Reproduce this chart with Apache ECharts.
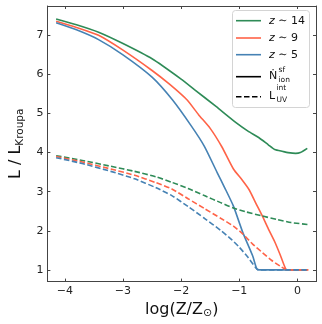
<!DOCTYPE html>
<html>
<head>
<meta charset="utf-8">
<script src="https://cdn.jsdelivr.net/npm/echarts@6/dist/echarts.min.js"></script>
<style>
  html, body { margin: 0; padding: 0; background: #fff; }
  #chart { width: 322px; height: 324px; }
</style>
</head>
<body>
<div id="chart"></div>
<script>
// 坐标轴刻度
const xTicks = [-4, -3, -2, -1, 0];
const yTicks = [1, 2, 3, 4, 5, 6, 7];

// 实线: N_ion^sf
const solidZ14 = [[-4.15, 7.42], [-3.8, 7.27], [-3.42, 7.08], [-3.0, 6.79], [-2.5, 6.40], [-2.0, 5.88], [-1.76, 5.60], [-1.4, 5.18], [-1.05, 4.76], [-0.85, 4.55], [-0.66, 4.38], [-0.5, 4.2], [-0.39, 4.08], [-0.25, 4.03], [-0.16, 4.0], [-0.03, 3.98], [0.05, 4.0], [0.17, 4.11]];
const solidZ9 = [[-4.15, 7.36], [-3.8, 7.2], [-3.42, 7.0], [-3.0, 6.62], [-2.5, 6.10], [-2.2, 5.75], [-1.9, 5.35], [-1.7, 4.97], [-1.5, 4.62], [-1.3, 4.15], [-1.1, 3.58], [-0.95, 3.3], [-0.83, 3.05], [-0.72, 2.72], [-0.61, 2.40], [-0.5, 2.05], [-0.39, 1.72], [-0.3, 1.40], [-0.2, 1.02], [-0.15, 1.0], [0.17, 1.0]];
const solidZ5 = [[-4.15, 7.32], [-3.8, 7.14], [-3.42, 6.89], [-3.0, 6.50], [-2.5, 5.93], [-2.15, 5.35], [-1.82, 4.67], [-1.6, 4.16], [-1.38, 3.49], [-1.25, 3.1], [-1.1, 2.63], [-0.94, 1.96], [-0.77, 1.36], [-0.7, 1.03], [-0.65, 1.0], [0.17, 1.0]];

// 虚线: L_UV^int
const dashZ14 = [[-4.15, 3.92], [-3.7, 3.80], [-3.21, 3.65], [-2.8, 3.52], [-2.43, 3.38], [-2.16, 3.24], [-1.88, 3.08], [-1.6, 2.90], [-1.32, 2.72], [-1.1, 2.58], [-0.9, 2.49], [-0.61, 2.38], [-0.35, 2.29], [-0.11, 2.21], [0.19, 2.16]];
const dashZ9 = [[-4.15, 3.90], [-3.7, 3.76], [-3.21, 3.58], [-2.8, 3.42], [-2.43, 3.23], [-2.16, 3.07], [-1.88, 2.82], [-1.6, 2.57], [-1.32, 2.32], [-1.1, 2.12], [-0.94, 1.92], [-0.77, 1.66], [-0.6, 1.44], [-0.44, 1.24], [-0.3, 1.1], [-0.2, 1.01], [-0.15, 1.0], [0.19, 1.0]];
const dashZ5 = [[-4.15, 3.87], [-3.7, 3.72], [-3.21, 3.52], [-2.8, 3.33], [-2.43, 3.10], [-2.16, 2.90], [-1.88, 2.62], [-1.6, 2.32], [-1.32, 2.01], [-1.15, 1.80], [-1.0, 1.58], [-0.85, 1.32], [-0.72, 1.06], [-0.68, 1.0], [0.19, 1.0]];

const GREEN = '#2e8b57';
const RED = '#ff6347';
const BLUE = '#4682b4';
const FONT = 'DejaVu Sans';
const AXIS = '#444';

function lineSeries(data, color, dashed) {
  return {
    type: 'line',
    data: data,
    showSymbol: false,
    smooth: 0.2,
    silent: true,
    lineStyle: { color: color, width: 1.6, type: dashed ? [5.5, 2.5] : 'solid' },
  };
}

function fmtMinus(v) {
  return String(v).replace('-', '\u2212');
}

const myChart = echarts.init(document.getElementById('chart'));

const xBase = {
  type: 'value', min: -4.3, max: 0.32,
  splitLine: { show: false },
  axisLine: { onZero: false, lineStyle: { color: AXIS, width: 1 } },
  axisTick: { inside: true, length: 3, customValues: xTicks, lineStyle: { color: AXIS } },
};
const yBase = {
  type: 'value', min: 0.7, max: 7.75,
  splitLine: { show: false },
  axisLine: { onZero: false, lineStyle: { color: AXIS, width: 1 } },
  axisTick: { inside: true, length: 3, customValues: yTicks, lineStyle: { color: AXIS } },
};

let option = {
  animation: false,
  grid: { left: 37, right: 6, top: 6, bottom: 42 },
  xAxis: [
    Object.assign({}, xBase, {
      position: 'bottom',
      axisLabel: { customValues: xTicks, formatter: fmtMinus, fontFamily: FONT, fontSize: 11, color: '#222', margin: 4 },
      name: '{a|log(Z/Z}{b|\u2299}{a|)}',
      nameLocation: 'middle',
      nameGap: 17,
      nameTextStyle: {
        rich: {
          a: { fontFamily: FONT, fontSize: 16, color: '#111' },
          b: { fontFamily: FONT, fontSize: 11, color: '#111', padding: [8, 0, 0, 0] },
        },
      },
    }),
    Object.assign({}, xBase, { position: 'top', axisLabel: { show: false } }),
  ],
  yAxis: [
    Object.assign({}, yBase, {
      position: 'left',
      axisLabel: { customValues: yTicks, fontFamily: FONT, fontSize: 11, color: '#222', margin: 4 },
      name: '{a|L / L}{b|Kroupa}',
      nameLocation: 'middle',
      nameGap: 20,
      nameRotate: 90,
      nameTextStyle: {
        rich: {
          a: { fontFamily: FONT, fontSize: 16, color: '#111' },
          b: { fontFamily: FONT, fontSize: 10.5, color: '#111', padding: [8, 0, 0, 0] },
        },
      },
    }),
    Object.assign({}, yBase, { position: 'right', axisLabel: { show: false } }),
  ],
  series: [
    lineSeries(solidZ14, GREEN, false),
    lineSeries(solidZ9, RED, false),
    lineSeries(solidZ5, BLUE, false),
    lineSeries(dashZ14, GREEN, true),
    lineSeries(dashZ9, RED, true),
    lineSeries(dashZ5, BLUE, true),
  ],
  // 图例
  graphic: [
    { type: 'rect', z: 100, shape: { x: 232.5, y: 10.5, width: 77, height: 97, r: 3 }, style: { fill: 'rgba(255,255,255,0.85)', stroke: '#d4d4d4', lineWidth: 1 } },
    { type: 'line', z: 101, shape: { x1: 236, y1: 20.7, x2: 261, y2: 20.7 }, style: { stroke: GREEN, lineWidth: 1.6 } },
    { type: 'line', z: 101, shape: { x1: 236, y1: 38, x2: 261, y2: 38 }, style: { stroke: RED, lineWidth: 1.6 } },
    { type: 'line', z: 101, shape: { x1: 236, y1: 54.7, x2: 261, y2: 54.7 }, style: { stroke: BLUE, lineWidth: 1.6 } },
    { type: 'line', z: 101, shape: { x1: 236, y1: 76.7, x2: 261, y2: 76.7 }, style: { stroke: '#000', lineWidth: 1.6 } },
    { type: 'line', z: 101, shape: { x1: 236, y1: 96.7, x2: 261, y2: 96.7 }, style: { stroke: '#000', lineWidth: 1.6, lineDash: [5.5, 2.5] } },
    { type: 'text', z: 101, x: 269, y: 20.7, style: { text: '{i|z} \u223c 14', fontFamily: FONT, fontSize: 11, fill: '#111', verticalAlign: 'middle', rich: { i: { fontStyle: 'italic', fontFamily: FONT, fontSize: 11 } } } },
    { type: 'text', z: 101, x: 269, y: 38, style: { text: '{i|z} \u223c 9', fontFamily: FONT, fontSize: 11, fill: '#111', verticalAlign: 'middle', rich: { i: { fontStyle: 'italic', fontFamily: FONT, fontSize: 11 } } } },
    { type: 'text', z: 101, x: 269, y: 54.7, style: { text: '{i|z} \u223c 5', fontFamily: FONT, fontSize: 11, fill: '#111', verticalAlign: 'middle', rich: { i: { fontStyle: 'italic', fontFamily: FONT, fontSize: 11 } } } },
    { type: 'text', z: 101, x: 269, y: 76.5, style: { text: '\u1E44', fontFamily: FONT, fontSize: 11, fill: '#111', verticalAlign: 'middle' } },
    { type: 'text', z: 101, x: 278.5, y: 70, style: { text: 'sf', fontFamily: FONT, fontSize: 7.5, fill: '#111', verticalAlign: 'middle' } },
    { type: 'text', z: 101, x: 278.5, y: 80.5, style: { text: 'ion', fontFamily: FONT, fontSize: 7.5, fill: '#111', verticalAlign: 'middle' } },
    { type: 'text', z: 101, x: 269, y: 96.5, style: { text: 'L', fontFamily: FONT, fontSize: 11, fill: '#111', verticalAlign: 'middle' } },
    { type: 'text', z: 101, x: 276.5, y: 88, style: { text: 'int', fontFamily: FONT, fontSize: 7.5, fill: '#111', verticalAlign: 'middle' } },
    { type: 'text', z: 101, x: 276.5, y: 100.5, style: { text: 'UV', fontFamily: FONT, fontSize: 7.5, fill: '#111', verticalAlign: 'middle' } },
  ],
};
myChart.setOption(option);
</script>
</body>
</html>
